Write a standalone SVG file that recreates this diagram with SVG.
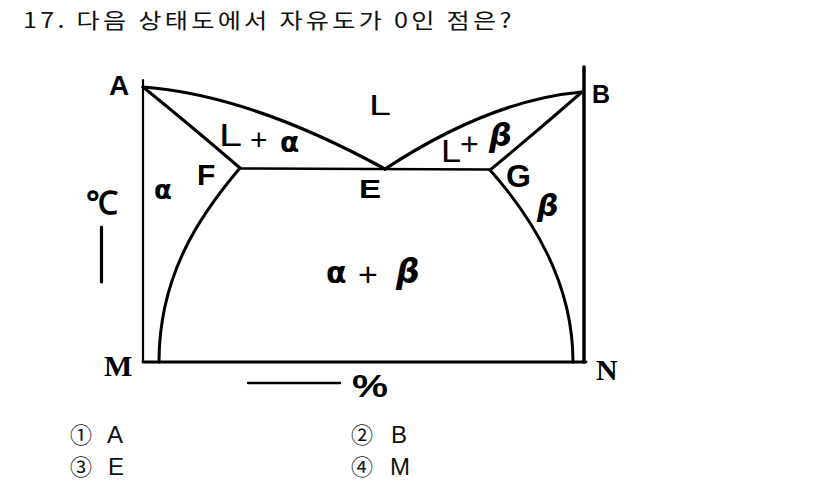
<svg xmlns="http://www.w3.org/2000/svg" width="826" height="493" viewBox="0 0 826 493">
<style>
.ln{fill:none;stroke:#000;stroke-linecap:round;stroke-linejoin:round}
.lb{font-family:"Liberation Sans",Arial,sans-serif;font-weight:bold;fill:#000}
.lr{font-family:"Liberation Sans",Arial,sans-serif;fill:#000}
.sf{font-family:"Liberation Serif","Times New Roman",serif;font-weight:bold;fill:#000}
.gk{font-family:"DejaVu Sans","Liberation Sans",sans-serif;font-style:italic;font-weight:bold;fill:#000}
.ga{font-family:"DejaVu Sans","Liberation Sans",sans-serif;font-weight:bold;fill:#000}
.kr{font-family:"Noto Sans CJK KR","Liberation Sans",sans-serif;fill:#111}
.op{font-family:"Liberation Sans",Arial,sans-serif;fill:#111;font-size:24px}
</style>
<rect width="826" height="493" fill="#fff"/>
<text id="title" class="kr" transform="translate(23,28) scale(1.2,1)" x="0" y="0" font-size="21" textLength="407" lengthAdjust="spacing">17. 다음 상태도에서 자유도가 0인 점은?</text>
<g id="frame">
<line class="ln" x1="143" y1="80" x2="143" y2="362" stroke-width="2.2"/>
<line class="ln" x1="584" y1="67" x2="584" y2="362" stroke-width="3.5"/>
<line class="ln" x1="143" y1="362" x2="586" y2="362" stroke-width="2.8"/>
</g>
<g id="curves">
<path class="ln" d="M143,87 Q250,95 385,169" stroke-width="3.2"/>
<path class="ln" d="M143,87 Q190,125 240,168" stroke-width="3"/>
<path class="ln" d="M240,168 C200,215 159,275 159,362" stroke-width="3"/>
<line class="ln" x1="240" y1="168.5" x2="490" y2="169.5" stroke-width="2.6"/>
<path class="ln" d="M385,169 Q490,100 582,92" stroke-width="3.2"/>
<path class="ln" d="M490,170 Q535,133 582,92" stroke-width="3"/>
<path class="ln" d="M490,170 C530,215 573,280 573,362" stroke-width="3"/>
</g>
<g id="labels">
<text class="lb" x="109" y="95" font-size="28">A</text>
<text class="lb" x="592" y="103" font-size="25">B</text>
<text class="sf" x="104" y="376" font-size="30">M</text>
<text class="sf" x="596" y="380" font-size="30">N</text>
<text class="lb" x="197" y="185" font-size="30">F</text>
<text class="lb" x="359" y="198" font-size="26" textLength="22" lengthAdjust="spacingAndGlyphs">E</text>
<text class="lb" x="506" y="187" font-size="32">G</text>
<text class="lr" x="369" y="115" font-size="29" textLength="22" lengthAdjust="spacingAndGlyphs">L</text>
<text class="lr" x="219" y="146" font-size="32" textLength="23" lengthAdjust="spacingAndGlyphs">L</text>
<text class="lr" x="250" y="150" font-size="30">+</text>
<text class="ga" x="280" y="152" font-size="28">α</text>
<text class="lr" x="441" y="162" font-size="32" textLength="20" lengthAdjust="spacingAndGlyphs">L</text>
<text class="lr" x="460" y="155" font-size="32">+</text>
<text class="gk" x="489" y="146" font-size="32">β</text>
<text class="ga" x="154" y="199" font-size="26">α</text>
<text class="gk" x="537" y="216" font-size="30">β</text>
<text class="ga" x="326" y="283" font-size="30">α</text>
<text class="lr" x="358" y="286" font-size="34">+</text>
<text class="gk" x="396" y="283" font-size="33">β</text>
<text class="sf" x="86" y="214" font-size="32" font-weight="normal">℃</text>
<line class="ln" x1="101.5" y1="227" x2="101.5" y2="282" stroke-width="3.2"/>
<line class="ln" x1="248" y1="383" x2="340" y2="383" stroke-width="2.5"/>
<text class="lb" x="352" y="397" font-size="31" textLength="36" lengthAdjust="spacingAndGlyphs">%</text>
</g>
<g id="options">
<text class="kr" x="70" y="443" font-size="22">①</text><text class="op" x="107" y="443">A</text>
<text class="kr" x="351" y="443" font-size="22">②</text><text class="op" x="391" y="443">B</text>
<text class="kr" x="70" y="475" font-size="22">③</text><text class="op" x="108" y="475">E</text>
<text class="kr" x="351" y="475" font-size="22">④</text><text class="op" x="390" y="475">M</text>
</g>
</svg>
